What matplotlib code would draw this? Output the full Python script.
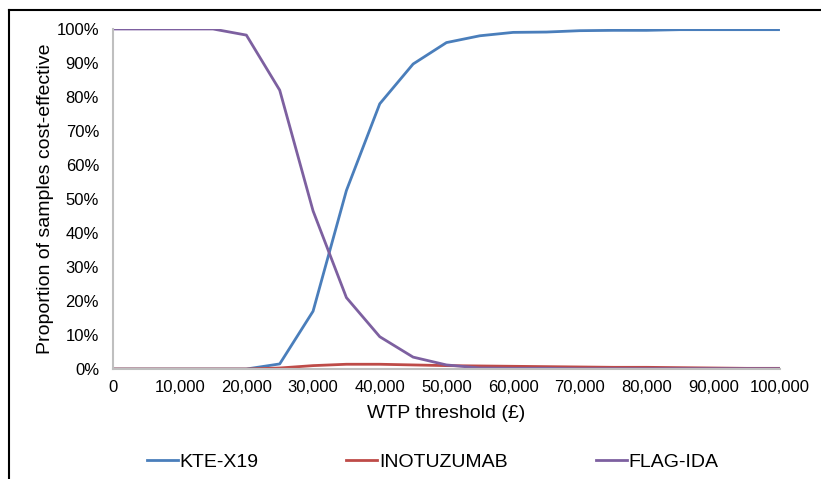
import matplotlib
matplotlib.use("Agg")
import matplotlib.pyplot as plt
from matplotlib.ticker import FuncFormatter
from matplotlib.lines import Line2D

plt.rcParams['font.family'] = ['Liberation Sans', 'DejaVu Sans']

wtp = [0, 5000, 10000, 15000, 20000, 25000, 30000, 35000, 40000, 45000, 50000,
       55000, 60000, 65000, 70000, 75000, 80000, 85000, 90000, 95000, 100000]
kte_x19 = [0, 0, 0, 0, 0, 1.5, 17.0, 52.5, 78.0, 89.7, 96.0,
           98.0, 99.0, 99.1, 99.5, 99.6, 99.6, 99.8, 99.8, 99.8, 99.8]
inotuzumab = [0, 0, 0, 0, 0, 0.3, 1.0, 1.4, 1.4, 1.2, 1.0,
              0.9, 0.8, 0.7, 0.6, 0.5, 0.5, 0.4, 0.3, 0.2, 0.2]
flag_ida = [100, 100, 100, 100, 98.2, 82.0, 46.5, 21.0, 9.5, 3.5, 1.2,
            0.3, 0.2, 0.2, 0.1, 0.1, 0.1, 0.1, 0.1, 0.1, 0.1]

names = ['KTE-X19', 'INOTUZUMAB', 'FLAG-IDA']
colors = ['#4A7EBB', '#BE4B48', '#7D60A0']

fig = plt.figure(figsize=(8.21, 4.79), dpi=100)
ax = fig.add_axes([0.1376, 0.2296, 0.8124, 0.7099])

for vals, name, c in zip([kte_x19, inotuzumab, flag_ida], names, colors):
    ax.plot(wtp, vals, color=c, lw=2.0, label=name, solid_capstyle='butt')

ax.set_xlim(0, 100000)
ax.set_ylim(0, 100)
ax.set_xticks(range(0, 100001, 10000))
ax.set_yticks(range(0, 101, 10))
ax.xaxis.set_major_formatter(FuncFormatter(lambda v, p: f"{int(v):,}"))
ax.yaxis.set_major_formatter(FuncFormatter(lambda v, p: f"{int(v)}%"))
ax.tick_params(length=0, labelsize=12, pad=10, colors='#000000')
ax.tick_params(axis='x', pad=8)
for s in ['top', 'right']:
    ax.spines[s].set_visible(False)
for s in ['left', 'bottom']:
    ax.spines[s].set_color('#BFBFBF')
    ax.spines[s].set_linewidth(1.5)

ax.set_xlabel('WTP threshold (£)', fontsize=14, labelpad=7)
ax.set_ylabel('Proportion of samples cost-effective', fontsize=14, labelpad=2)

handles = [Line2D([0], [0], color=c, lw=2.0) for c in colors]
fig.legend(handles, names, loc='center', bbox_to_anchor=(0.527, 0.036),
           ncol=3, frameon=False, fontsize=14, handlelength=1.6,
           handletextpad=0.1, columnspacing=4.5)

# partial frame of the cropped chart area
fig.add_artist(Line2D([9 / 821, 1], [1 - 10 / 479, 1 - 10 / 479],
                      transform=fig.transFigure, color='black', lw=1.5))
fig.add_artist(Line2D([9 / 821, 9 / 821], [0, 1 - 10 / 479],
                      transform=fig.transFigure, color='black', lw=1.5))

fig.savefig('out.png', dpi=100)
